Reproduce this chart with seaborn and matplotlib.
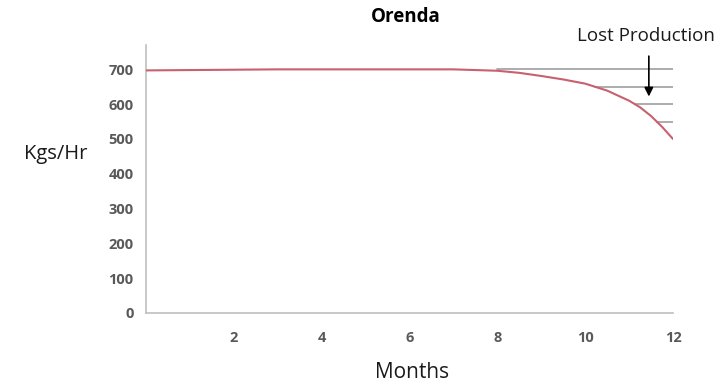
import numpy as np
import pandas as pd
import matplotlib
matplotlib.use("Agg")
import matplotlib.pyplot as plt
import seaborn as sns

# Production rate over the year
months = [0, 1, 2, 3, 4, 5, 6, 7, 8, 8.5, 9, 9.5, 10, 10.5, 11, 11.25, 11.5, 11.75, 12]
kgs_per_hr = [697, 698, 699, 700, 700, 700, 700, 700, 696, 690, 681, 671, 659, 639,
              610, 591, 566, 535, 500]

# Reference levels marking lost production
levels = [700, 650, 600, 550]

x_ticks = [0, 2, 4, 6, 8, 10, 12]
x_tick_labels = ["", "2", "4", "6", "8", "10", "12"]
y_ticks = [0, 100, 200, 300, 400, 500, 600, 700]

sns.set_theme(style="white")
plt.rcParams["font.family"] = ["Open Sans", "DejaVu Sans"]

df = pd.DataFrame({"Months": months, "Kgs/Hr": kgs_per_hr})

fig = plt.figure(figsize=(7.23, 3.83), dpi=100)
ax = fig.add_axes([146 / 723, 1 - 313 / 383, (673 - 146) / 723, (313 - 45) / 383])

# Horizontal reference lines from where the curve drops below each level
rev_x = np.array(months)[::-1]
rev_y = np.array(kgs_per_hr)[::-1]
for lvl in levels:
    start = 8.0 if lvl >= max(kgs_per_hr[8:]) else float(np.interp(lvl, rev_y, rev_x))
    ax.plot([start, 12], [lvl, lvl], color="#A6A6A6", lw=1.3, zorder=2)

sns.lineplot(data=df, x="Months", y="Kgs/Hr", ax=ax, color="#C8606E", lw=1.5, zorder=3)

ax.set_xlim(0, 12)
ax.set_ylim(0, 770)
ax.set_xticks(x_ticks)
ax.set_xticklabels(x_tick_labels)
ax.set_yticks(y_ticks)

for side in ["top", "right"]:
    ax.spines[side].set_visible(False)
for side in ["left", "bottom"]:
    ax.spines[side].set_color("#BFBFBF")
    ax.spines[side].set_linewidth(1.2)

ax.tick_params(axis="both", which="both", direction="out", length=5, width=1,
               color="#BFBFBF", labelcolor="#595959", labelsize=10.5, pad=4)
ax.tick_params(axis="x", pad=8)
for lab in ax.get_xticklabels() + ax.get_yticklabels():
    lab.set_fontweight("bold")

ax.set_xlabel("")
ax.set_ylabel("")
fig.text(412 / 723, 1 - 372 / 383, "Months", ha="center", va="center",
         fontsize=15, color="#1A1A1A")
fig.text(56 / 723, 1 - 154 / 383, "Kgs/Hr", ha="center", va="center",
         fontsize=14.5, color="#1A1A1A")

fig.text(406 / 723, 1 - 17 / 383, "Orenda", ha="center", va="center",
         fontsize=13.5, fontweight="bold", color="#000000")

fig.text(646 / 723, 1 - 36 / 383, "Lost Production", ha="center", va="center",
         fontsize=13.5, color="#1A1A1A")
ax.annotate("", xy=(11.45, 622), xytext=(11.45, 738), textcoords="data",
            annotation_clip=False,
            arrowprops=dict(arrowstyle="-|>", color="#000000", lw=1.2,
                            mutation_scale=13, shrinkA=0, shrinkB=0))

fig.savefig("out.png", dpi=100, facecolor="white")
